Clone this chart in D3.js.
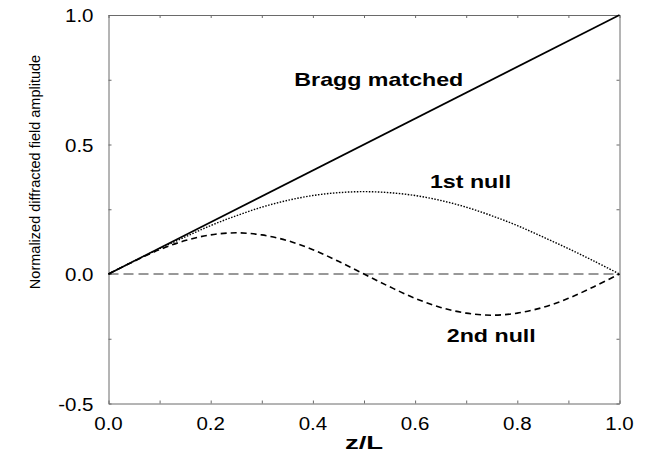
<!DOCTYPE html>
<html>
<head>
<meta charset="utf-8">
<script src="https://cdn.jsdelivr.net/npm/d3@7"></script>
<style>
  body { margin: 0; background: #fff; }
  text { font-family: "Liberation Sans", Arial, sans-serif; }
</style>
</head>
<body>
<div id="chart"></div>
<script>
// data
const zValues = [0, 0.05, 0.1, 0.15, 0.2, 0.25, 0.3, 0.35, 0.4, 0.45, 0.5,
  0.55, 0.6, 0.65, 0.7, 0.75, 0.8, 0.85, 0.9, 0.95, 1.0];
const braggZ = [0, 1];
const braggAmp = [0, 1];
const firstNull = [0, 0.050, 0.098, 0.143, 0.187, 0.225, 0.258, 0.284, 0.303, 0.314, 0.318,
  0.314, 0.303, 0.284, 0.258, 0.225, 0.187, 0.143, 0.098, 0.050, 0];
const secondNull = [0, 0.049, 0.094, 0.129, 0.151, 0.159, 0.151, 0.129, 0.094, 0.049, 0,
  -0.049, -0.094, -0.129, -0.151, -0.159, -0.151, -0.129, -0.094, -0.049, 0];
const xTickLabels = [0, 0.2, 0.4, 0.6, 0.8, 1.0];
const yTickLabels = [-0.5, 0, 0.5, 1.0];
const curveLabels = [
  { text: "Bragg matched", z: 0.529, a: 0.75, anchor: "middle" },
  { text: "1st null", z: 0.629, a: 0.355, anchor: "start" },
  { text: "2nd null", z: 0.662, a: -0.24, anchor: "start" }
];

const width = 647, height = 464,
  margin = { top: 15, right: 27.5, bottom: 60.5, left: 108.5 };

const svg = d3.select("#chart").append("svg")
  .attr("width", width)
  .attr("height", height);

const x = d3.scaleLinear().domain([0, 1]).range([margin.left, width - margin.right]);
const y = d3.scaleLinear().domain([-0.5, 1]).range([height - margin.bottom, margin.top]);

const axisColor = "#6a6a6a";

// ticks, inward on all four sides
const xMinor = d3.range(0, 1.0001, 0.1);
const yMinor = d3.range(-0.5, 1.0001, 0.25);

svg.append("g")
  .attr("transform", `translate(0,${y(-0.5)})`)
  .call(d3.axisBottom(x).tickValues(xMinor).tickSizeInner(-3).tickSizeOuter(0).tickFormat(""));
svg.append("g")
  .attr("transform", `translate(0,${y(1)})`)
  .call(d3.axisTop(x).tickValues(xMinor).tickSizeInner(-3).tickSizeOuter(0).tickFormat(""));
svg.append("g")
  .attr("transform", `translate(${x(0)},0)`)
  .call(d3.axisLeft(y).tickValues(yMinor).tickSizeInner(-3).tickSizeOuter(0).tickFormat(""));
svg.append("g")
  .attr("transform", `translate(${x(1)},0)`)
  .call(d3.axisRight(y).tickValues(yMinor).tickSizeInner(-3).tickSizeOuter(0).tickFormat(""));

svg.selectAll(".domain, .tick line").attr("stroke", axisColor).attr("stroke-width", 1);

const fmt = d => d3.format(".1f")(d).replace("\u2212", "-");

// tick labels
svg.selectAll(".xlab")
  .data(xTickLabels)
  .join("text")
  .attr("class", "xlab")
  .attr("transform", d => `translate(${x(d)},${y(-0.5) + 26}) scale(1.08,1)`)
  .attr("text-anchor", "middle")
  .attr("font-size", 19)
  .text(fmt);

svg.selectAll(".ylab")
  .data(yTickLabels)
  .join("text")
  .attr("class", "ylab")
  .attr("transform", d => `translate(${x(0) - 15},${y(d) + 7}) scale(1.08,1)`)
  .attr("text-anchor", "end")
  .attr("font-size", 19)
  .text(fmt);

// axis titles
svg.append("text")
  .attr("transform", `translate(${x(0.5)},449) scale(1.45,1)`)
  .attr("text-anchor", "middle")
  .attr("font-size", 19)
  .attr("font-weight", "bold")
  .text("z/L");

svg.append("text")
  .attr("transform", `translate(40,172) rotate(-90)`)
  .attr("text-anchor", "middle")
  .attr("font-size", 14.5)
  .text("Normalized diffracted field amplitude");

// zero reference line
svg.append("line")
  .attr("x1", x(0)).attr("x2", x(1))
  .attr("y1", y(0)).attr("y2", y(0))
  .attr("stroke", "#333")
  .attr("stroke-width", 1)
  .attr("stroke-dasharray", "10,5");

const line = d3.line()
  .x(d => x(d[0]))
  .y(d => y(d[1]))
  .curve(d3.curveCatmullRom);

svg.append("path")
  .datum(braggZ.map((z, i) => [z, braggAmp[i]]))
  .attr("d", line)
  .attr("fill", "none")
  .attr("stroke", "#000")
  .attr("stroke-width", 1.6);

svg.append("path")
  .datum(zValues.map((z, i) => [z, firstNull[i]]))
  .attr("d", line)
  .attr("fill", "none")
  .attr("stroke", "#000")
  .attr("stroke-width", 1.4)
  .attr("stroke-dasharray", "1.5,1.5");

svg.append("path")
  .datum(zValues.map((z, i) => [z, secondNull[i]]))
  .attr("d", line)
  .attr("fill", "none")
  .attr("stroke", "#000")
  .attr("stroke-width", 1.6)
  .attr("stroke-dasharray", "6,4");

// curve labels
svg.selectAll(".clab")
  .data(curveLabels)
  .join("text")
  .attr("class", "clab")
  .attr("transform", d => `translate(${x(d.z)},${y(d.a) + 6}) scale(1.29,1)`)
  .attr("text-anchor", d => d.anchor)
  .attr("font-size", 18)
  .attr("font-weight", "bold")
  .text(d => d.text);
</script>
</body>
</html>
